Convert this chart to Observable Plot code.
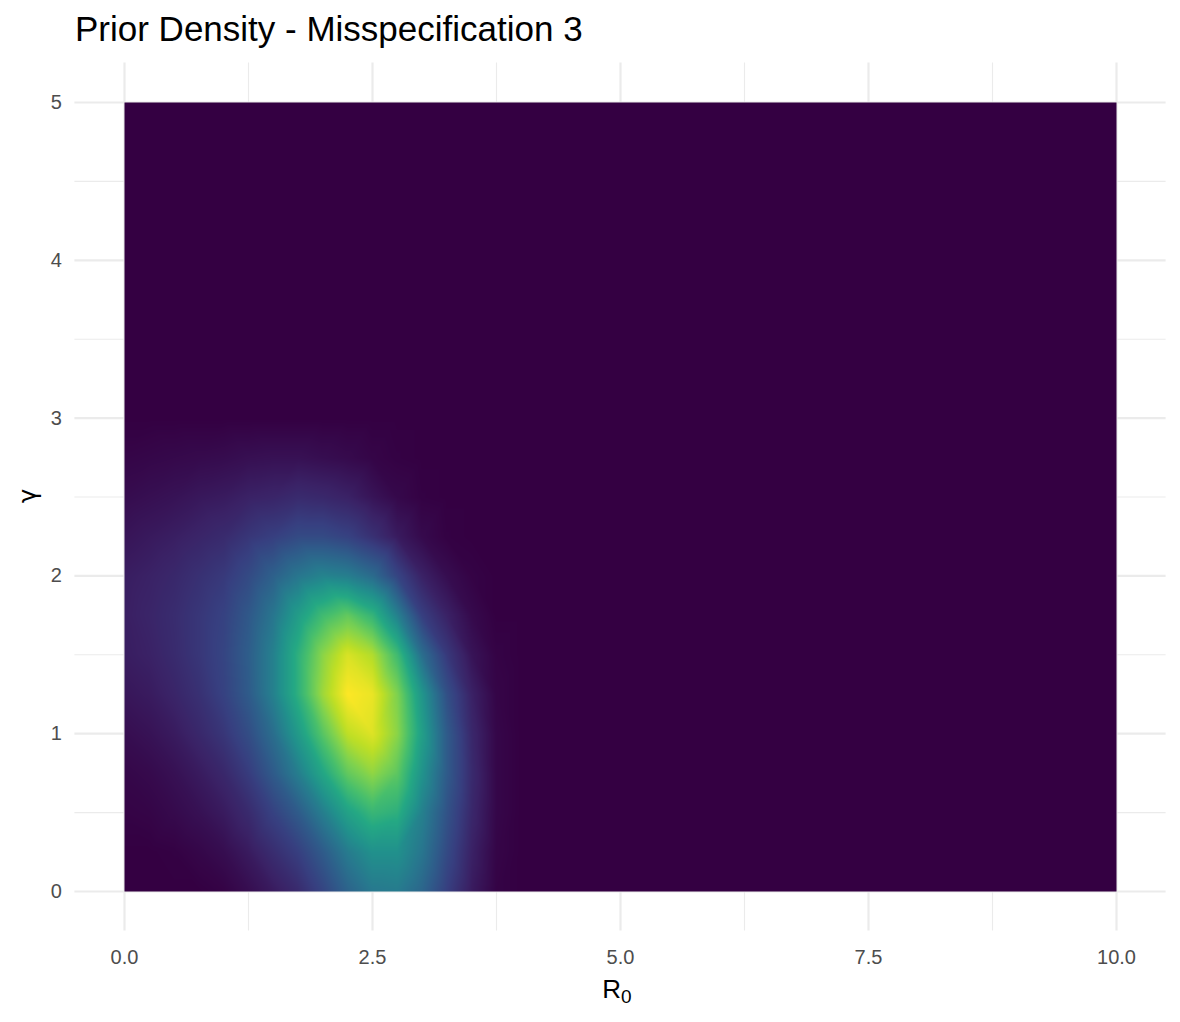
<!DOCTYPE html>
<html><head><meta charset="utf-8">
<script src="https://cdn.jsdelivr.net/npm/d3@7"></script>
<script src="https://cdn.jsdelivr.net/npm/@observablehq/plot@0.6"></script>
<style>
body{margin:0;background:#fff;font-family:"Liberation Sans",Arial,sans-serif;}
#wrap{position:relative;width:1180px;height:1022px;}
#title{position:absolute;left:75px;top:10.5px;font-size:35px;line-height:35px;color:#000;white-space:nowrap;}
#chart{position:absolute;left:0;top:0;}
</style></head><body>
<div id="wrap"><div id="chart"></div><div id="title">Prior Density - Misspecification 3</div></div>
<script>
// grid of R0 (columns) and gamma (rows) at which the density was read
const R0 = [0, 0.25, 0.5, 0.75, 1, 1.25, 1.5, 1.75, 2, 2.25, 2.5, 2.75, 3, 3.25, 3.5, 3.75, 4];
const gammaVals = [0, 0.25, 0.5, 0.75, 1, 1.25, 1.5, 1.75, 2, 2.25, 2.5, 2.75, 3];
// relative prior density (max = 1), one row per gamma value
const density = [
  [0,0,0,0,0.01,0.04,0.08,0.13,0.22,0.33,0.41,0.42,0.34,0.2,0.08,0.01,0],
  [0,0,0.005,0.02,0.04,0.08,0.14,0.2,0.3,0.42,0.5,0.5,0.4,0.24,0.1,0.015,0],
  [0.01,0.015,0.03,0.05,0.08,0.13,0.21,0.3,0.43,0.57,0.66,0.63,0.44,0.27,0.12,0.02,0],
  [0.02,0.03,0.05,0.08,0.12,0.19,0.3,0.43,0.59,0.75,0.83,0.74,0.51,0.3,0.13,0.02,0],
  [0.04,0.055,0.08,0.12,0.17,0.25,0.37,0.54,0.73,0.9,0.95,0.82,0.56,0.3,0.12,0.02,0],
  [0.065,0.08,0.11,0.15,0.21,0.3,0.44,0.63,0.85,1.0,0.97,0.8,0.52,0.26,0.1,0.015,0],
  [0.085,0.1,0.13,0.17,0.22,0.31,0.44,0.63,0.82,0.94,0.88,0.68,0.37,0.18,0.06,0.01,0],
  [0.09,0.11,0.135,0.17,0.21,0.29,0.4,0.55,0.68,0.75,0.65,0.44,0.2,0.1,0.03,0,0],
  [0.085,0.1,0.12,0.15,0.18,0.24,0.32,0.4,0.45,0.43,0.36,0.22,0.1,0.04,0.01,0,0],
  [0.06,0.075,0.09,0.11,0.13,0.17,0.2,0.24,0.24,0.21,0.15,0.08,0.03,0.005,0,0,0],
  [0.035,0.045,0.055,0.07,0.08,0.1,0.11,0.13,0.12,0.1,0.06,0.025,0.005,0,0,0,0],
  [0.015,0.02,0.025,0.03,0.035,0.045,0.05,0.05,0.04,0.03,0.015,0.005,0,0,0,0,0],
  [0,0,0,0,0,0,0,0,0,0,0,0,0,0,0,0,0]
];
// full extent of the density grid (zero density outside the read area)
const rangeR0 = [0, 10];
const rangeGamma = [0, 5];
const xTicks = [0, 2.5, 5, 7.5, 10];
const xMinor = [1.25, 3.75, 6.25, 8.75];
const yTicks = [0, 1, 2, 3, 4, 5];
const yMinor = [0.5, 1.5, 2.5, 3.5, 4.5];
const rampColors = ["#340042","#3a2266","#373f80","#2f5b8a","#28768e","#21918c","#24a884","#48bf6c","#7ed24f","#bfdf25","#fde725"];

const cells = [];
gammaVals.forEach((g, i) => R0.forEach((r, j) => cells.push({r0: r, g, d: density[i][j]})));
for (const r of rangeR0) for (const g of rangeGamma) cells.push({r0: r, g, d: 0});
cells.push({r0: 4, g: rangeGamma[1], d: 0}, {r0: rangeR0[1], g: 3, d: 0});

const W = 1180, H = 1022;
const mL = 74.4, mR = 14.4, mT = 62.55, mB = 91.55;
const chart = Plot.plot({
  width: W, height: H,
  marginLeft: mL, marginRight: mR, marginTop: mT, marginBottom: mB,
  x: {domain: [-0.5, 10.5], label: null},
  y: {domain: [-0.25, 5.25], label: null},
  color: {type: "linear", domain: [0, 1], interpolate: d3.piecewise(d3.interpolateRgb, rampColors)},
  style: {fontFamily: "'Liberation Sans', Arial, sans-serif", background: "transparent"},
  marks: [
    Plot.gridX(xMinor, {stroke: "#ebebeb", strokeOpacity: 1, strokeWidth: 1.1}),
    Plot.gridY(yMinor, {stroke: "#ebebeb", strokeOpacity: 1, strokeWidth: 1.1}),
    Plot.gridX(xTicks, {stroke: "#ebebeb", strokeOpacity: 1, strokeWidth: 2.2}),
    Plot.gridY(yTicks, {stroke: "#ebebeb", strokeOpacity: 1, strokeWidth: 2.2}),
    Plot.raster(cells, {x: "r0", y: "g", fill: "d", x1: rangeR0[0], x2: rangeR0[1], y1: rangeGamma[0], y2: rangeGamma[1], interpolate: "barycentric"}),
    Plot.axisX(xTicks, {tickSize: 0, tickPadding: 19, tickFormat: d => d.toFixed(1), fontSize: 20, color: "#4d4d4d", label: null}),
    Plot.axisY(yTicks, {tickSize: 0, tickPadding: 13, tickFormat: d => String(d), fontSize: 20, color: "#4d4d4d", label: null})
  ]
});
document.getElementById("chart").appendChild(chart);

const svg = d3.select(chart);
const xl = svg.append("text")
  .attr("x", 617).attr("y", 998)
  .attr("font-size", 26).attr("fill", "#000")
  .attr("font-family", "'Liberation Sans', Arial, sans-serif");
xl.append("tspan").text("R");
xl.append("tspan").attr("font-size", 19).attr("dy", 5).text("0");
svg.append("text")
  .attr("transform", "translate(36,496) rotate(-90)")
  .attr("text-anchor", "middle")
  .attr("font-size", 24).attr("fill", "#000")
  .attr("font-family", "'DejaVu Sans', sans-serif")
  .text("γ");
</script>
</body></html>
